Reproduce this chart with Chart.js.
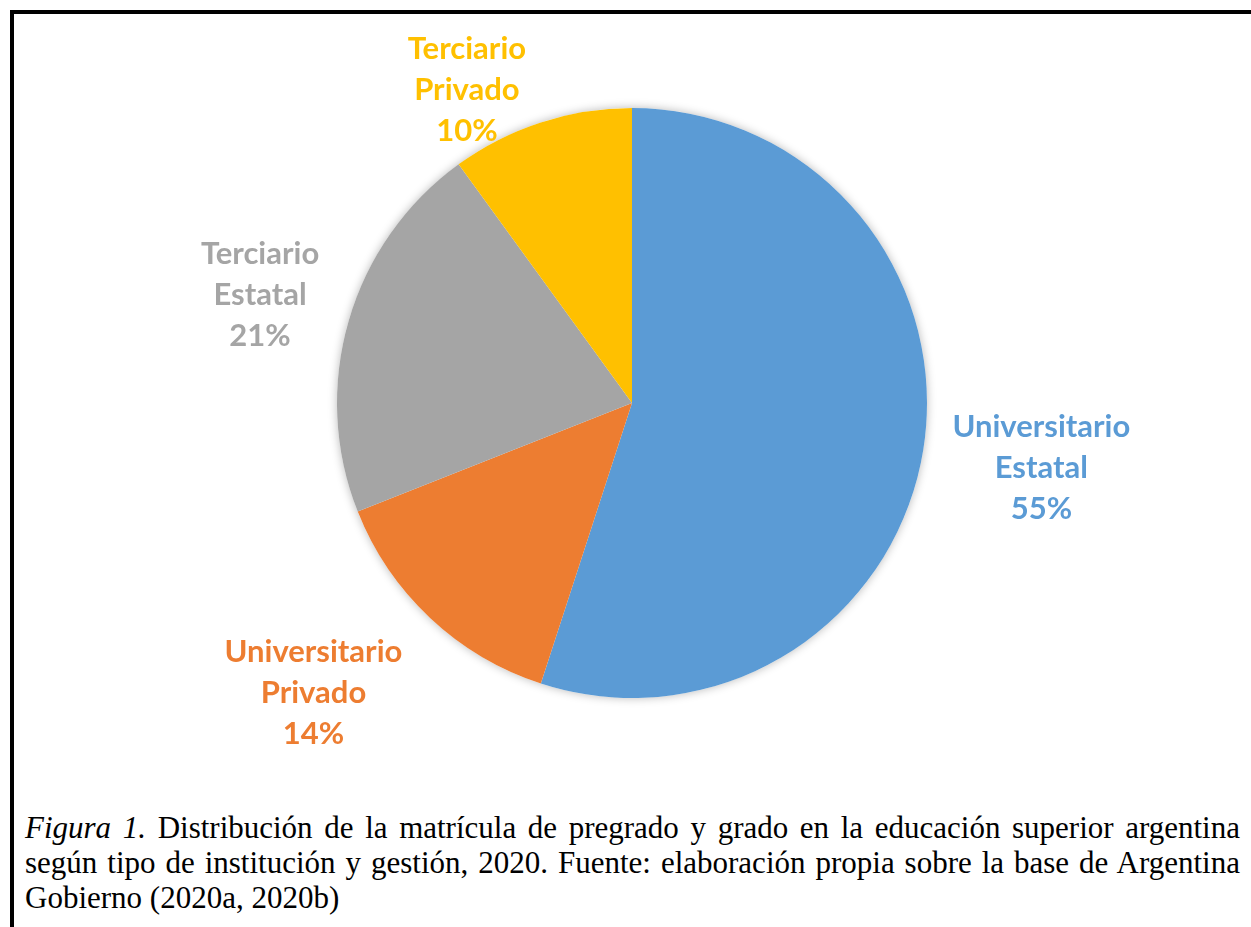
<!DOCTYPE html>
<html>
<head>
<meta charset="utf-8">
<script src="https://cdn.jsdelivr.net/npm/chart.js@4"></script>
<style>
  html, body { margin: 0; padding: 0; background: #fff; }
  body { width: 1251px; height: 927px; position: relative; overflow: hidden; }
  #frame {
    position: absolute; left: 10px; top: 10px; width: 1300px; height: 1000px;
    border-top: 4px solid #000; border-left: 4px solid #000;
  }
  #chartBox { position: absolute; left: 0; top: 0; width: 1251px; height: 790px; }
  #caption {
    position: absolute; left: 25px; top: 810px; width: 1215px;
    font-family: "Liberation Serif", "Times New Roman", serif;
    font-size: 31px; line-height: 35px; color: #000;
  }
  #caption div { white-space: nowrap; }
  #caption .just { text-align: justify; text-align-last: justify; }
</style>
</head>
<body>
<div id="frame"></div>
<div id="chartBox"><canvas id="chart_matricula"></canvas></div>
<div id="caption">
  <div class="just"><i>Figura 1.</i> Distribución de la matrícula de pregrado y grado en la educación superior argentina</div>
  <div class="just">según tipo de institución y gestión, 2020. Fuente: elaboración propia sobre la base de Argentina</div>
  <div>Gobierno (2020a, 2020b)</div>
</div>
<script>
var categories = ['Universitario Estatal', 'Universitario Privado', 'Terciario Estatal', 'Terciario Privado'];
var shares = [55, 14, 21, 10];
var sliceColors = ['#5B9BD5', '#ED7D31', '#A5A5A5', '#FFC000'];

// where each outside label sits: distance as multiple of radius, small angle nudge in degrees
var labelPlacement = [
    { dist: 1.405, shift: 0 },
    { dist: 1.46, shift: 4.5 },
    { dist: 1.313, shift: 0 },
    { dist: 1.2, shift: -9.8 }
];

var pieShadow = {
    id: 'pieShadow',
    beforeDatasetsDraw: function(chart) {
        var arc = chart.getDatasetMeta(0).data[0];
        if (!arc) return;
        var ctx = chart.ctx;
        ctx.save();
        ctx.shadowColor = 'rgba(0,0,0,0.28)';
        ctx.shadowBlur = 10;
        ctx.fillStyle = '#fff';
        ctx.beginPath();
        ctx.arc(arc.x, arc.y, arc.outerRadius, 0, Math.PI * 2);
        ctx.fill();
        ctx.restore();
    }
};

var outsideLabels = {
    id: 'outsideLabels',
    afterDatasetsDraw: function(chart) {
        var ctx = chart.ctx;
        var meta = chart.getDatasetMeta(0);
        var total = shares.reduce(function(a, b) { return a + b; }, 0);
        ctx.save();
        ctx.font = 'bold 31px Lato';
        ctx.textAlign = 'center';
        ctx.textBaseline = 'middle';
        meta.data.forEach(function(arc, i) {
            var p = labelPlacement[i];
            var mid = (arc.startAngle + arc.endAngle) / 2 + p.shift * Math.PI / 180;
            var cx = arc.x + Math.cos(mid) * arc.outerRadius * p.dist;
            var cy = arc.y + Math.sin(mid) * arc.outerRadius * p.dist;
            var lines = categories[i].split(' ');
            lines.push(Math.round(shares[i] / total * 100) + '%');
            ctx.fillStyle = sliceColors[i];
            lines.forEach(function(txt, k) {
                ctx.fillText(txt, cx, cy + (k - 1) * 41);
            });
        });
        ctx.restore();
    }
};

var chart_matricula = new Chart(document.getElementById('chart_matricula'), {
    type: 'pie',
    data: {
        labels: categories,
        datasets: [{
            data: shares,
            backgroundColor: sliceColors,
            borderWidth: 0
        }]
    },
    options: {
        animation: false,
        responsive: true,
        maintainAspectRatio: false,
        layout: {
            padding: { top: 108, bottom: 92, left: 337, right: 324 }
        },
        plugins: {
            legend: { display: false },
            tooltip: { enabled: false }
        }
    },
    plugins: [pieShadow, outsideLabels]
});
</script>
</body>
</html>
